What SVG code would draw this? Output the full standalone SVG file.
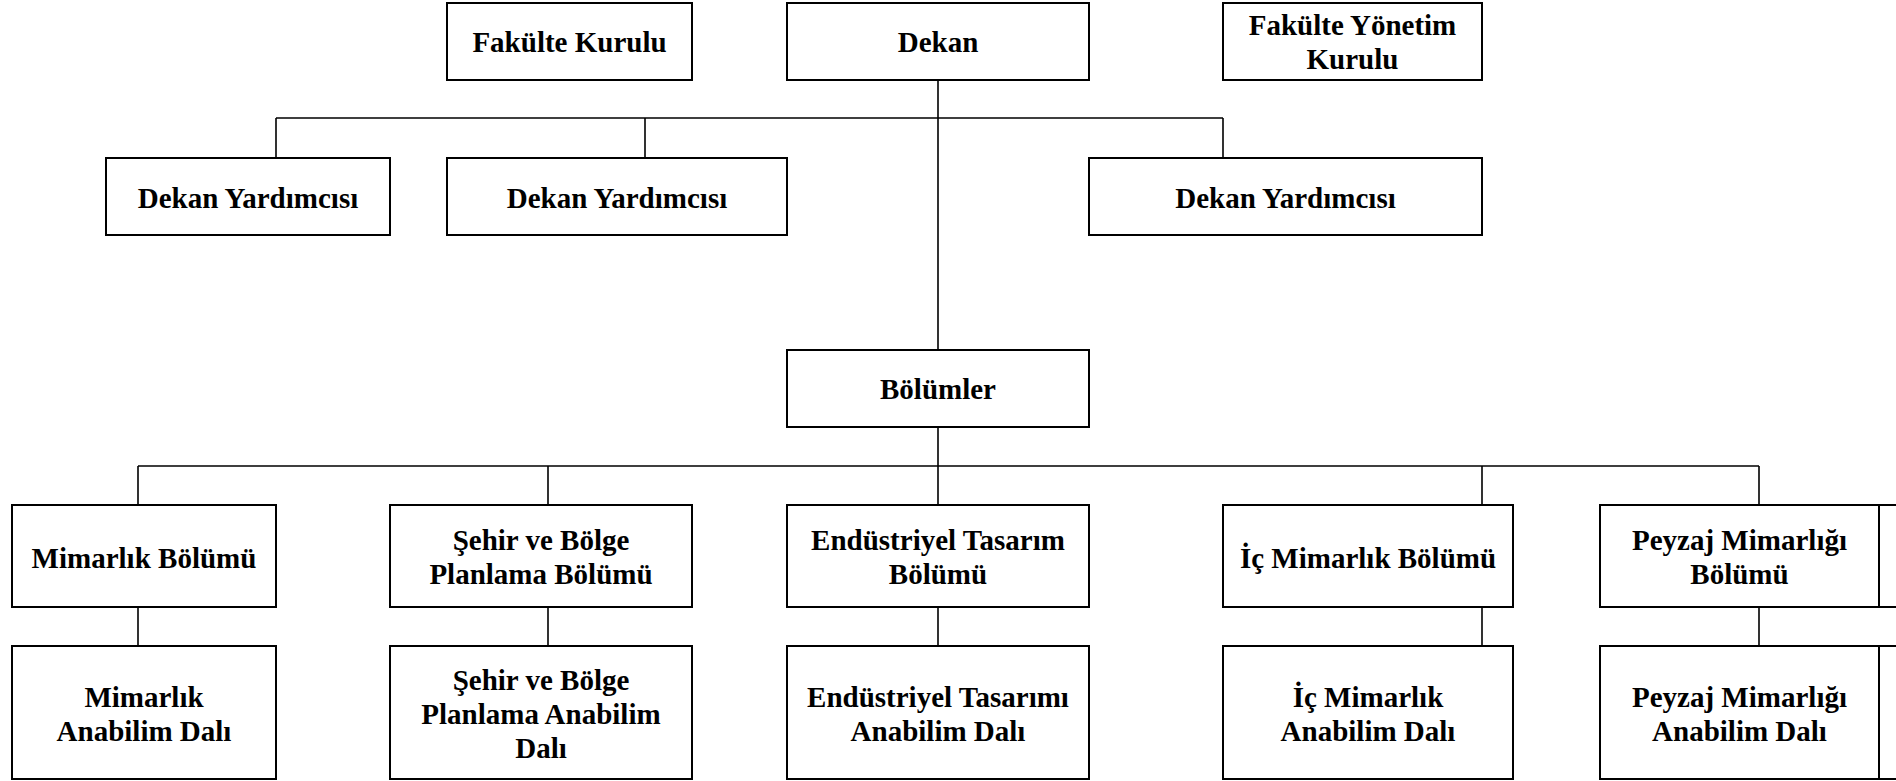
<svg xmlns="http://www.w3.org/2000/svg" width="1896" height="781" viewBox="0 0 1896 781">
<style>
.box{fill:#fff;stroke:#000;stroke-width:2}
.ln{fill:none;stroke:#000;stroke-width:1.6}
text{font-family:"Liberation Serif","Times New Roman",serif;font-weight:bold;font-size:29px;fill:#000;text-anchor:middle}
</style>
<rect width="1896" height="781" fill="#fff"/>
<g id="connectors">
<path class="ln" d="M938 80V350M276 118H1223M276 118V158M645 118V158M1223 118V158"/>
<path class="ln" d="M938 427V505M138 466H1759M138 466V505M548 466V505M1482 466V505M1759 466V505"/>
<path class="ln" d="M138 607V646M548 607V646M938 607V646M1482 607V646M1759 607V646"/>
</g>
<g id="fakulte-kurulu"><rect class="box" x="447" y="3" width="245" height="77"/><text x="569.5" y="52">Fakülte Kurulu</text></g>
<g id="dekan"><rect class="box" x="787" y="3" width="302" height="77"/><text x="938" y="52">Dekan</text></g>
<g id="fakulte-yonetim-kurulu"><rect class="box" x="1223" y="3" width="259" height="77"/><text x="1352.5" y="35">Fakülte Yönetim</text><text x="1352.5" y="69">Kurulu</text></g>
<g id="dekan-yrd-1"><rect class="box" x="106" y="158" width="284" height="77"/><text x="248" y="208">Dekan Yardımcısı</text></g>
<g id="dekan-yrd-2"><rect class="box" x="447" y="158" width="340" height="77"/><text x="617" y="208">Dekan Yardımcısı</text></g>
<g id="dekan-yrd-3"><rect class="box" x="1089" y="158" width="393" height="77"/><text x="1285.5" y="208">Dekan Yardımcısı</text></g>
<g id="bolumler"><rect class="box" x="787" y="350" width="302" height="77"/><text x="938" y="399">Bölümler</text></g>
<g id="mimarlik-bolumu"><rect class="box" x="12" y="505" width="264" height="102"/><text x="144" y="568">Mimarlık Bölümü</text></g>
<g id="sehir-bolumu"><rect class="box" x="390" y="505" width="302" height="102"/><text x="541" y="550">Şehir ve Bölge</text><text x="541" y="584">Planlama Bölümü</text></g>
<g id="endustriyel-bolumu"><rect class="box" x="787" y="505" width="302" height="102"/><text x="938" y="550">Endüstriyel Tasarım</text><text x="938" y="584">Bölümü</text></g>
<g id="ic-mimarlik-bolumu"><rect class="box" x="1223" y="505" width="290" height="102"/><text x="1368" y="568">İç Mimarlık Bölümü</text></g>
<g id="peyzaj-bolumu"><rect class="box" x="1600" y="505" width="279" height="102"/><text x="1739.5" y="550">Peyzaj Mimarlığı</text><text x="1739.5" y="584">Bölümü</text></g>
<g id="cut-off-1"><rect class="box" x="1879" y="505" width="100" height="102"/></g>
<g id="mimarlik-abd"><rect class="box" x="12" y="646" width="264" height="133"/><text x="144" y="707">Mimarlık</text><text x="144" y="741">Anabilim Dalı</text></g>
<g id="sehir-abd"><rect class="box" x="390" y="646" width="302" height="133"/><text x="541" y="690">Şehir ve Bölge</text><text x="541" y="724">Planlama Anabilim</text><text x="541" y="758">Dalı</text></g>
<g id="endustriyel-abd"><rect class="box" x="787" y="646" width="302" height="133"/><text x="938" y="707">Endüstriyel Tasarımı</text><text x="938" y="741">Anabilim Dalı</text></g>
<g id="ic-mimarlik-abd"><rect class="box" x="1223" y="646" width="290" height="133"/><text x="1368" y="707">İç Mimarlık</text><text x="1368" y="741">Anabilim Dalı</text></g>
<g id="peyzaj-abd"><rect class="box" x="1600" y="646" width="279" height="133"/><text x="1739.5" y="707">Peyzaj Mimarlığı</text><text x="1739.5" y="741">Anabilim Dalı</text></g>
<g id="cut-off-2"><rect class="box" x="1879" y="646" width="100" height="133"/></g>
</svg>
